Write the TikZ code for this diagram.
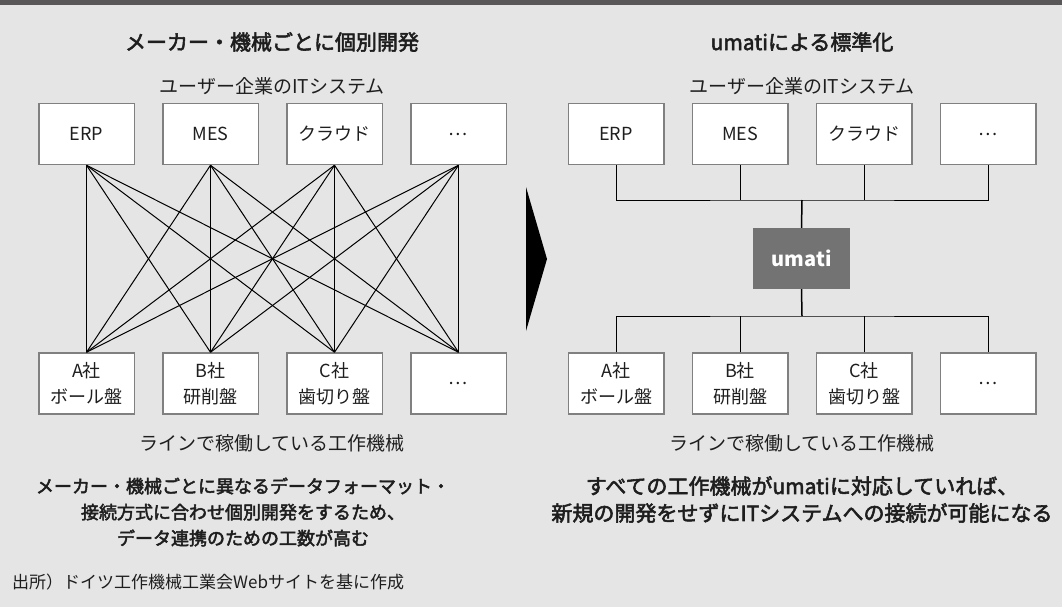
\documentclass[tikz,border=0pt]{standalone}
\usepackage{fontspec}
\setmainfont{Noto Sans CJK JP}
\newfontfamily\medfont{Noto Sans CJK JP}[FakeBold=2.6]
\definecolor{bg}{HTML}{E5E5E5}
\definecolor{bar}{HTML}{595757}
\definecolor{boxline}{HTML}{808080}
\definecolor{umatifill}{HTML}{737373}
\definecolor{txt}{HTML}{1E1E1E}
\begin{document}
\begin{tikzpicture}[x=1pt,y=-1pt,
  sysbox/.style={draw=boxline, line width=1.5pt, fill=white, minimum width=95.5pt, minimum height=61pt,
    inner sep=0pt, align=center, text=txt, font=\fontsize{18}{26}\selectfont},
  title/.style={text=txt, font=\fontsize{21}{26}\selectfont\medfont, inner sep=0pt},
  sub/.style={text=txt, font=\fontsize{19}{26}\selectfont, inner sep=0pt},
  concl/.style={text=txt, font=\fontsize{18}{26}\selectfont\medfont, inner sep=0pt, align=center},
  wire/.style={draw=black, line width=1pt},
  trunk/.style={draw=black, line width=1.5pt}]
\useasboundingbox (0,0) rectangle (1062,607);
\fill[bg] (0,0) rectangle (1062,607);
\fill[bar] (0,0) rectangle (1062,5);

% ---------- left half ----------
\node[title] (ltitle) at (272,42) {メーカー・機械ごとに個別開発};
\node[sub] (lsub) at (272,86) {ユーザー企業のITシステム};
\node[sysbox] (L1) at (86.5,134) {ERP};
\node[sysbox] (L2) at (210.5,134) {MES};
\node[sysbox] (L3) at (334.5,134) {クラウド};
\node[sysbox] (L4) at (458.5,134) {…};
\node[sysbox] (LB1) at (86.5,383.5) {A社\\ボール盤};
\node[sysbox] (LB2) at (210.5,383.5) {B社\\研削盤};
\node[sysbox] (LB3) at (334.5,383.5) {C社\\歯切り盤};
\node[sysbox] (LB4) at (458.5,383.5) {…};
\foreach \t in {L1,L2,L3,L4}{
  \foreach \b in {LB1,LB2,LB3,LB4}{
    \draw[wire] (\t.south) -- (\b.north);
  }
}
\node[sub] (lline) at (272,443.5) {ラインで稼働している工作機械};
\node[concl] (lconcl) at (243,512) {メーカー・機械ごとに異なるデータフォーマット・\\接続方式に合わせ個別開発をするため、\\データ連携のための工数が高む};

% ---------- arrow ----------
\fill[black] (526,187) -- (547,259) -- (526,331) -- cycle;

% ---------- right half ----------
\node[title] (rtitle) at (802,42) {umatiによる標準化};
\node[sub] (rsub) at (802,86) {ユーザー企業のITシステム};
\node[sysbox] (R1) at (616,134) {ERP};
\node[sysbox] (R2) at (740,134) {MES};
\node[sysbox] (R3) at (864,134) {クラウド};
\node[sysbox] (R4) at (988,134) {…};
\node[sysbox] (RB1) at (616,383.5) {A社\\ボール盤};
\node[sysbox] (RB2) at (740,383.5) {B社\\研削盤};
\node[sysbox] (RB3) at (864,383.5) {C社\\歯切り盤};
\node[sysbox] (RB4) at (988,383.5) {…};
\node[fill=umatifill, minimum width=97pt, minimum height=61pt, inner sep=0pt, text=white,
  font=\fontsize{20}{24}\selectfont\bfseries] (umati) at (801.5,258.5) {umati};
\coordinate (ru) at (802,200);
\coordinate (rd) at (802,316);
\draw[wire] (R1.south) |- (ru) -| (R4.south);
\draw[wire] (R2.south) -- (R2.south |- ru);
\draw[wire] (R3.south) -- (R3.south |- ru);
\draw[trunk] (ru) -- (umati.north);
\draw[trunk] (umati.south) -- (rd);
\draw[wire] (RB1.north) |- (rd) -| (RB4.north);
\draw[wire] (RB2.north) -- (RB2.north |- rd);
\draw[wire] (RB3.north) -- (RB3.north |- rd);
\node[sub] (rline) at (802,443.5) {ラインで稼働している工作機械};
\node[concl, font=\fontsize{21}{27}\selectfont\medfont] (rconcl) at (802,499.5) {すべての工作機械がumatiに対応していれば、\\新規の開発をせずにITシステムへの接続が可能になる};

% ---------- source ----------
\node[anchor=west, text=txt, font=\fontsize{17}{18}\selectfont, inner sep=0pt] (src) at (12,582) {出所）ドイツ工作機械工業会Webサイトを基に作成};
\end{tikzpicture}
\end{document}
